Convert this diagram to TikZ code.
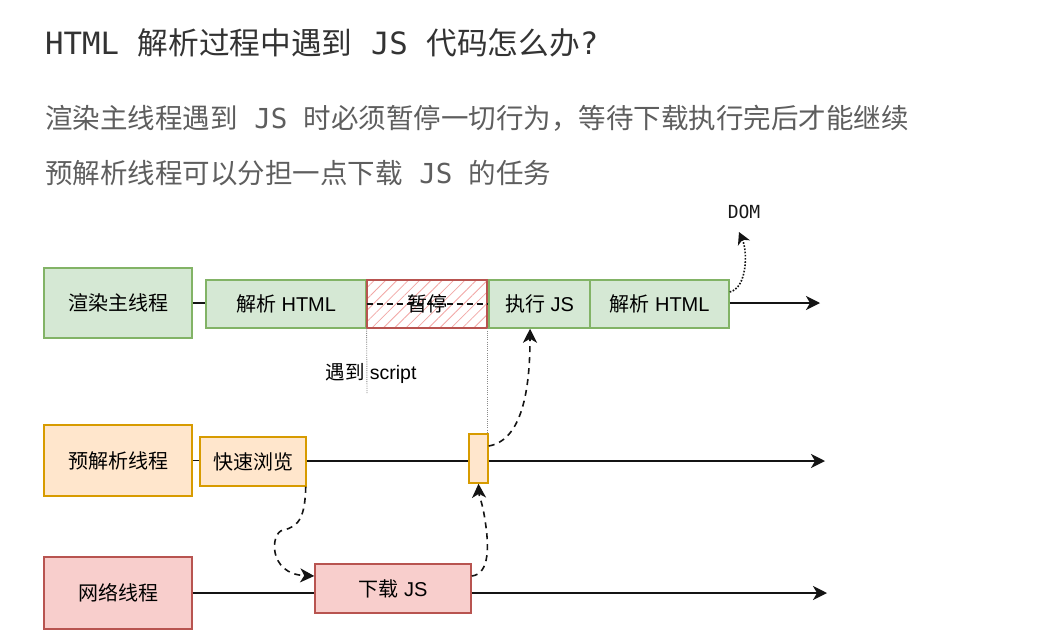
\documentclass[tikz,border=0pt]{standalone}
\usepackage{fontspec}
\setmainfont{Liberation Sans}
\newfontfamily\cjk{Noto Sans CJK SC}
\newfontfamily\monof{DejaVu Sans Mono}
\usetikzlibrary{arrows.meta,patterns.meta}
\definecolor{gfill}{HTML}{D5E8D4}
\definecolor{gline}{HTML}{82B366}
\definecolor{ofill}{HTML}{FFE6CC}
\definecolor{oline}{HTML}{D79B00}
\definecolor{rfill}{HTML}{F8CECC}
\definecolor{rline}{HTML}{B85450}
\definecolor{hatch}{HTML}{F2A7A5}
\definecolor{titlec}{HTML}{333333}
\definecolor{subc}{HTML}{5E5E5E}
\definecolor{guidec}{HTML}{8A8A8A}
\begin{document}
\begin{tikzpicture}[x=1pt,y=-1pt,
  box/.style={draw, line width=1.5pt, inner sep=0pt, text=black,
    font=\fontsize{20}{24}\selectfont},
  gbox/.style={box, fill=gfill, draw=gline},
  obox/.style={box, fill=ofill, draw=oline},
  rbox/.style={box, fill=rfill, draw=rline},
  pausebox/.style={draw=rline, line width=2pt, inner sep=0pt,
    pattern={Lines[angle=45,distance=8pt,line width=0.8pt]}, pattern color=hatch},
  lbl/.style={inner sep=0pt, text=black, font=\fontsize{20}{24}\selectfont},
  tline/.style={line width=1.8pt, draw=black!92},
  tarrow/.style={tline, -{Stealth[length=14pt,width=14pt,inset=4pt]}},
  dasharr/.style={line width=1.6pt, draw=black!92, dash pattern=on 6pt off 5pt,
    -{Stealth[length=14pt,width=14pt,inset=4pt]}},
  dotarr/.style={line width=1.6pt, draw=black!92, dash pattern=on 1.6pt off 1.6pt,
    -{Stealth[length=12pt,width=13pt,inset=3.5pt]}},
  guide/.style={line width=0.9pt, draw=guidec, dash pattern=on 1pt off 1.2pt},
  hdr/.style={anchor=west, inner sep=0pt}
]
\fill[white] (0,0) rectangle (1040,632);
\useasboundingbox (0,0) rectangle (1040,632);

% heading texts
\node[hdr, text=titlec, font=\fontsize{30.7}{34}\selectfont] (title) at (45,43)
  {{\monof HTML }{\cjk 解析过程中遇到}{\monof{} JS }{\cjk 代码怎么办}{\monof ?}};
\node[hdr, text=subc, font=\fontsize{27.5}{31}\selectfont] (sub1) at (45,118)
  {{\cjk 渲染主线程遇到}{\monof{} JS }{\cjk 时必须暂停一切行为，等待下载执行完后才能继续}};
\node[hdr, text=subc, font=\fontsize{27.5}{31}\selectfont] (sub2) at (45,173)
  {{\cjk 预解析线程可以分担一点下载}{\monof{} JS }{\cjk 的任务}};

% row 1 : main thread
\node[gbox, minimum width=148pt, minimum height=70pt] (main) at (118,303) {{\cjk 渲染主线程}};
\node[gbox, minimum width=160pt, minimum height=48pt] (parse1) at (286,304) {{\cjk 解析} HTML};
\node[pausebox, minimum width=120pt, minimum height=48pt] (pause) at (427,304) {};
\node[gbox, minimum width=101pt, minimum height=48pt] (exec) at (539.5,304) {{\cjk 执行} JS};
\node[gbox, minimum width=139pt, minimum height=48pt] (parse2) at (659.5,304) {{\cjk 解析} HTML};
\draw[line width=1.4pt, draw=black!92, dash pattern=on 6pt off 4pt] (pause.west) -- (pause.east);
\node[lbl] (pauselbl) at (pause.center) {{\cjk 暂停}};
\coordinate (end1) at (820,303);
\draw[tline] (main.east) -- (main.east -| parse1.west);
\draw[tarrow] (parse2.east |- end1) -- (end1);

% DOM
\node[inner sep=0pt, font=\monof\fontsize{18}{21}\selectfont, text=black!90] (dom) at (744,212) {DOM};
\draw[dotarr] ([yshift=12pt]parse2.east) .. controls (747,288) and (748,252) .. ([xshift=-5pt,yshift=-13pt]dom.south);

% guides
\coordinate (g1) at (367,393);
\draw[guide] (pause.south west) -- (g1);
\node[lbl, font=\fontsize{19.5}{23}\selectfont] (enc) at (371,373) {{\cjk 遇到} script};

% row 2 : preparse thread
\node[obox, minimum width=148pt, minimum height=71pt] (pre) at (118,460.5) {{\cjk 预解析线程}};
\node[obox, minimum width=106pt, minimum height=49pt] (scan) at (253,461.5) {{\cjk 快速浏览}};
\node[obox, minimum width=19pt, minimum height=49pt] (small) at (478.5,458.5) {};
\coordinate (end2) at (825,461);
\draw[tline] (pre.east) -- (pre.east -| scan.west);
\draw[tline] (scan.east |- end2) -- (small.west |- end2);
\draw[tarrow] (small.east |- end2) -- (end2);
\draw[guide] (pause.south east) -- (pause.south east |- small.north);

% row 3 : network thread
\node[rbox, minimum width=148pt, minimum height=72pt] (net) at (118,593) {{\cjk 网络线程}};
\node[rbox, minimum width=156pt, minimum height=49pt] (dl) at (393,588.5) {{\cjk 下载} JS};
\coordinate (end3) at (827,593);
\draw[tline] (net.east) -- (net.east -| dl.west);
\draw[tarrow] (dl.east |- end3) -- (end3);

% dashed connectors
\draw[dasharr] ([xshift=-1pt]scan.south east) .. controls (305,515) and (300,527) .. (283,530)
  .. controls (270,533) and (268,574) .. ([yshift=12.5pt]dl.west);
\draw[dasharr] ([yshift=12.5pt]dl.east) .. controls (490,574) and (489,545) .. (485,520)
  .. controls (482,500) and (479,497) .. (small.south);
\draw[dasharr] ([yshift=12.5pt]small.east) .. controls (522,440) and (530,390) .. ([xshift=-9.5pt]exec.south);
\end{tikzpicture}
\end{document}
